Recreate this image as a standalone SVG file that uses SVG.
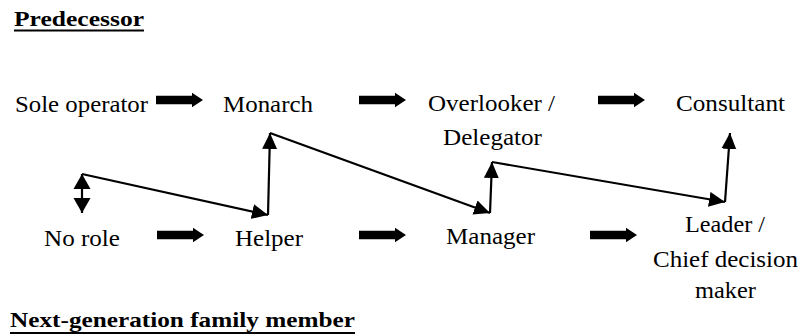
<svg xmlns="http://www.w3.org/2000/svg" width="803" height="336" viewBox="0 0 803 336">
  <style>
    .lbl { font-size: 23px; fill: #000; }
    .ttl { font-size: 22px; font-weight: bold; fill: #000; }
    .uline { stroke: #000; stroke-width: 2; }
    .conn { fill: none; stroke: #000; stroke-width: 2.2; stroke-linejoin: miter; }
    .block { fill: #000; }
  </style>
  <defs>
    <!-- thick block arrow, origin at left centre of the shaft -->
    <path id="blockArrow" class="block" d="M0,-4.2 H36 V-7.2 L47,0 L36,7.2 V4.2 H0 Z"/>
    <marker id="head" markerUnits="userSpaceOnUse" markerWidth="18" markerHeight="16" refX="16" refY="7.5" orient="auto">
      <path d="M0,0 L16,7.5 L0,15 Z" fill="#000"/>
    </marker>
    <marker id="headStart" markerUnits="userSpaceOnUse" markerWidth="18" markerHeight="18" refX="0" refY="8.5" orient="auto">
      <path d="M0,8.5 L15,0 L15,17 Z" fill="#000"/>
    </marker>
    <marker id="headEnd" markerUnits="userSpaceOnUse" markerWidth="18" markerHeight="18" refX="15" refY="8.5" orient="auto">
      <path d="M0,0 L15,8.5 L0,17 Z" fill="#000"/>
    </marker>
  </defs>

  <g font-family="Liberation Serif, Times New Roman, serif">
  <!-- section headings -->
  <g id="heading-predecessor">
    <text class="ttl" x="14" y="26" textLength="130" lengthAdjust="spacingAndGlyphs">Predecessor</text>
    <line class="uline" x1="14" y1="30.5" x2="144" y2="30.5"/>
  </g>
  <g id="heading-next-generation">
    <text class="ttl" x="10" y="327" textLength="345" lengthAdjust="spacingAndGlyphs">Next-generation family member</text>
    <line class="uline" x1="10" y1="333" x2="355" y2="333"/>
  </g>

  <!-- predecessor roles -->
  <g id="sole-operator"><text class="lbl" x="15" y="112" textLength="133" lengthAdjust="spacingAndGlyphs">Sole operator</text></g>
  <g id="monarch"><text class="lbl" x="223" y="112" textLength="90" lengthAdjust="spacingAndGlyphs">Monarch</text></g>
  <g id="overlooker">
    <text class="lbl" x="428" y="111" textLength="127" lengthAdjust="spacingAndGlyphs">Overlooker /</text>
    <text class="lbl" x="443" y="145" textLength="99" lengthAdjust="spacingAndGlyphs">Delegator</text>
  </g>
  <g id="consultant"><text class="lbl" x="676" y="111" textLength="109" lengthAdjust="spacingAndGlyphs">Consultant</text></g>

  <!-- next-generation roles -->
  <g id="no-role"><text class="lbl" x="44" y="246" textLength="76" lengthAdjust="spacingAndGlyphs">No role</text></g>
  <g id="helper"><text class="lbl" x="235" y="246" textLength="68" lengthAdjust="spacingAndGlyphs">Helper</text></g>
  <g id="manager"><text class="lbl" x="446" y="244" textLength="89" lengthAdjust="spacingAndGlyphs">Manager</text></g>
  <g id="leader">
    <text class="lbl" x="685" y="232" textLength="80" lengthAdjust="spacingAndGlyphs">Leader /</text>
    <text class="lbl" x="653" y="267" textLength="145" lengthAdjust="spacingAndGlyphs">Chief decision</text>
    <text class="lbl" x="695" y="298" textLength="61" lengthAdjust="spacingAndGlyphs">maker</text>
  </g>
  </g>

  <!-- connectors -->
  <g id="connectors">
    <!-- stage progression arrows -->
    <use href="#blockArrow" x="156" y="100"/>
    <use href="#blockArrow" x="359" y="100"/>
    <use href="#blockArrow" x="598" y="100"/>
    <use href="#blockArrow" x="157" y="235"/>
    <use href="#blockArrow" x="359" y="235"/>
    <use href="#blockArrow" x="590" y="235"/>

    <!-- two-way arrow beside No role -->
    <line class="conn" x1="82" y1="174" x2="82" y2="213" marker-start="url(#headStart)" marker-end="url(#headEnd)"/>

    <!-- zig-zag between the two generations -->
    <line class="conn" x1="82" y1="174" x2="268" y2="215" marker-end="url(#head)"/>
    <line class="conn" x1="268" y1="215" x2="270" y2="133" marker-end="url(#head)"/>
    <line class="conn" x1="270" y1="133" x2="490" y2="213" marker-end="url(#head)"/>
    <line class="conn" x1="490" y1="213" x2="492" y2="162" marker-end="url(#head)"/>
    <line class="conn" x1="492" y1="162" x2="725" y2="202" marker-end="url(#head)"/>
    <line class="conn" x1="725" y1="202" x2="730" y2="133" marker-end="url(#head)"/>
  </g>
</svg>
